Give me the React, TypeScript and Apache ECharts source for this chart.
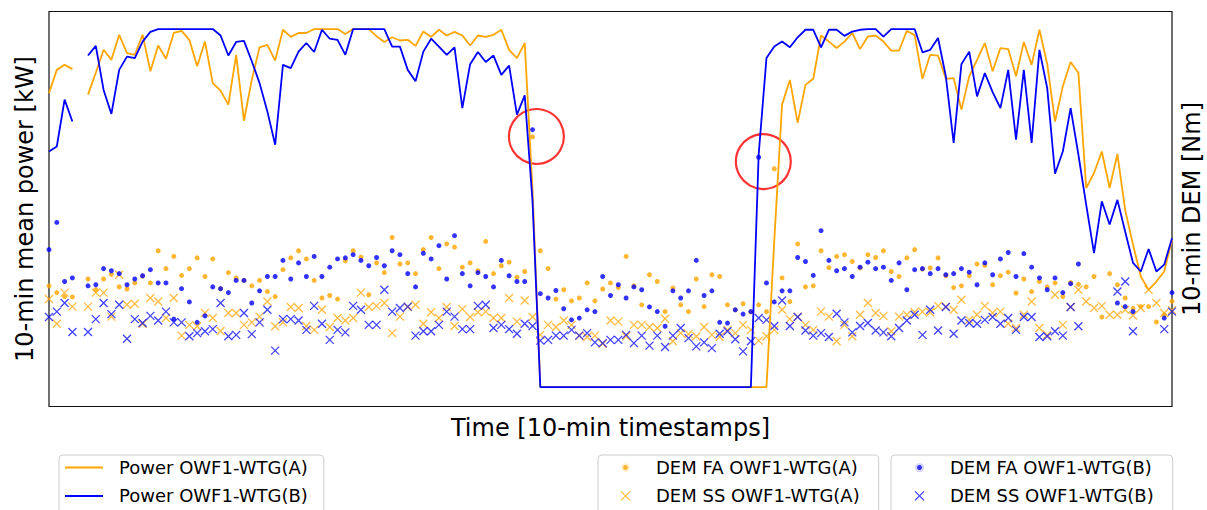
import React, { useEffect, useRef } from "react";
import * as echarts from "echarts";

// Power [% of rated], one value per 10-min timestamp (null = missing)
const powerA: (number | null)[] = [
  82.1, 88.6, 90.0, 88.8, null, 81.7, 87.8, 94.2, 91.4, 98.4,
  93.3, 92.8, 98.4, 88.2, 95.4, 91.7, 98.9, 99.5, 97.0, 89.6,
  96.5, 84.9, 82.8, 78.9, 92.8, 74.4, 85.8, 94.9, 95.6, 91.2,
  99.8, 97.8, 98.9, 98.9, 100, 100, 100, 100, 98.6, 100,
  100, 100, 98.0, 96.4, 97.7, 96.8, 97.0, 95.3, 99.3, 97.8,
  99.8, 98.2, 99.2, 98.2, 95.4, 98.2, 97.8, 98.4, 99.8, 94.2,
  91.9, 96.1, 55.0, 0, 0, 0, 0, 0, 0, 0,
  0, 0, 0, 0, 0, 0, 0, 0, 0, 0,
  0, 0, 0, 0, 0, 0, 0, 0, 0, 0,
  0, 0, 0, 41.0, 78.9, 85.8, 73.8, 84.4, 86.1, 98.2,
  96.5, 94.7, 96.5, 98.9, 94.4, 97.9, 98.2, 96.5, 94.0, 94.0,
  99.5, 98.3, 86.1, 92.8, 92.6, 86.1, 86.3, 77.5, 86.8, 91.4,
  96.1, 88.2, 94.7, 94.4, 86.8, 96.4, 90.0, 99.8, 90.2, 74.2,
  84.0, 90.8, 87.7, 55.6, 59.8, 65.8, 55.6, 65.1, 49.4, 39.8,
  30.9, 27.2, 29.5, 32.3, 41.2,
];

const powerB: (number | null)[] = [
  65.8, 67.2, 80.3, 74.2, null, 92.6, 95.3, 83.0, 76.3, 88.6,
  92.3, 91.9, 96.5, 99.2, 100, 100, 100, 100, 100, 100,
  100, 100, 98.2, 92.6, 96.4, 96.7, 91.0, 84.9, 77.0, 67.7,
  90.0, 89.1, 93.7, 96.1, 93.6, 99.8, 97.3, 97.0, 92.8, 100,
  100, 100, 100, 100, 95.1, 95.1, 88.6, 85.4, 93.7, 97.3,
  95.1, 92.8, 94.9, 77.9, 90.2, 93.6, 90.8, 92.6, 87.2, 89.8,
  76.1, 81.5, 52.0, 0, 0, 0, 0, 0, 0, 0,
  0, 0, 0, 0, 0, 0, 0, 0, 0, 0,
  0, 0, 0, 0, 0, 0, 0, 0, 0, 0,
  0, 65.0, 91.9, 95.1, 96.5, 94.9, 97.7, 99.8, 99.8, 94.9,
  99.8, 99.8, 98.1, 99.3, 99.8, 100, 100, 97.9, 100, 100,
  100, 100, 93.5, 94.2, 97.5, 86.8, 68.2, 90.2, 93.7, 81.2,
  87.7, 82.4, 77.9, 88.6, 69.1, 88.6, 68.2, 94.2, 83.5, 59.6,
  65.8, 77.9, 64.9, 50.9, 37.4, 51.9, 45.4, 52.3, 43.4, 34.7,
  32.3, 38.6, 32.3, 34.2, 41.6,
];

// DEM values (arbitrary units on the right axis)
const demFaA: (number | null)[] = [
  28.3, 26.4, 25.3, 25.2, null, 30.2, 27.2, 30.2, 31.5, 28.0,
  27.4, 29.1, 31.0, 29.1, 38.1, 33.1, 36.5, 31.2, 33.1, 36.1,
  30.9, 35.8, 27.5, 32.0, 30.5, 29.8, 28.3, 29.8, 26.7, 25.3,
  32.8, 36.1, 38.1, 35.8, 29.8, 24.9, 25.6, 24.6, 35.3, 38.1,
  36.3, 25.8, 34.7, 32.0, 41.8, 34.4, 34.7, 31.7, 38.4, 41.8,
  33.1, 40.0, 39.1, 33.5, 34.7, 32.5, 40.7, 31.7, 33.9, 34.9,
  30.7, 32.3, 69.9, 38.1, 33.1, 24.6, 27.2, 24.1, 24.9, 29.1,
  24.1, 27.4, 29.1, 27.8, 36.5, 28.3, 23.0, 31.4, 29.5, 21.1,
  27.7, 23.0, 21.1, 30.2, 22.5, 31.4, 30.9, 23.0, 21.6, 23.3,
  21.0, 23.0, 21.1, 61.0, 30.5, 23.9, 40.0, 28.0, 28.3, 38.1,
  33.4, 36.5, 37.0, 35.1, 33.3, 37.0, 36.2, 38.1, 32.3, 30.9,
  36.1, 38.4, 33.0, 33.3, 36.1, 31.1, 27.8, 28.3, 31.1, 34.4,
  34.0, 28.6, 31.1, 32.1, 26.3, 30.2, 26.7, 29.5, 28.0, 29.1,
  25.3, 29.2, 28.7, 28.0, 30.9, 19.6, 31.7, 28.6, 24.9, 22.0,
  22.5, 22.5, 18.2, 20.2, 24.0,
];

const demSsA: (number | null)[] = [
  24.6, 17.7, 26.4, 22.5, null, 22.5, 26.4, 26.4, 19.7, 31.4,
  23.0, 23.3, 17.7, 24.9, 23.9, 19.3, 24.9, 14.4, 17.4, 17.0,
  20.7, 19.3, 15.7, 20.7, 20.7, 17.4, 18.1, 19.7, 23.9, 17.0,
  18.1, 22.4, 22.1, 17.1, 16.0, 21.6, 16.8, 19.3, 18.6, 19.3,
  26.4, 22.4, 22.7, 23.5, 15.1, 19.7, 22.4, 23.0, 17.7, 20.9,
  19.3, 22.4, 17.1, 21.8, 19.6, 20.9, 21.1, 19.3, 19.3, 24.9,
  18.3, 24.2, 19.6, 14.6, 17.4, 16.8, 18.6, 17.4, 14.4, 14.0,
  14.4, 12.1, 18.6, 18.3, 14.2, 17.4, 17.4, 16.8, 16.5, 19.1,
  12.8, 15.1, 14.8, 14.2, 16.8, 14.6, 14.0, 16.0, 15.1, 17.4,
  16.0, 13.0, 14.2, 16.0, 21.6, 19.0, 19.7, 17.4, 16.0, 21.1,
  19.7, 12.8, 17.4, 14.2, 20.2, 23.5, 20.7, 19.9, 15.6, 19.7,
  20.2, 20.9, 21.1, 20.9, 22.7, 22.5, 21.6, 24.4, 18.8, 20.2,
  22.7, 20.7, 21.1, 17.7, 16.5, 20.2, 23.9, 16.5, 14.6, 25.8,
  17.4, 22.4, 27.2, 23.9, 22.1, 22.7, 20.2, 20.2, 21.6, 20.0,
  22.1, 27.2, 23.5, 20.7, 21.5,
];

const demFaB: (number | null)[] = [
  38.4, 46.0, 29.5, 30.5, null, 28.3, 28.6, 33.1, 32.5, 31.7,
  28.6, 30.2, 31.1, 32.8, 29.1, 29.1, 19.0, 27.5, 23.8, 18.1,
  19.9, 28.0, 27.5, 26.4, 29.8, 29.8, 23.5, 26.9, 30.9, 30.9,
  35.4, 30.2, 34.7, 30.9, 36.5, 30.9, 33.5, 35.8, 36.1, 37.0,
  35.4, 33.9, 36.2, 33.9, 38.1, 37.0, 31.7, 28.0, 37.4, 35.8,
  39.5, 30.2, 42.3, 31.7, 28.3, 32.0, 30.9, 28.0, 35.4, 31.1,
  29.5, 29.5, 71.9, 26.1, 24.9, 27.0, 21.9, 18.8, 19.3, 21.6,
  21.1, 30.9, 25.6, 28.6, 24.9, 28.0, 27.2, 22.4, 21.1, 17.0,
  26.9, 24.9, 26.9, 35.4, 25.6, 26.9, 18.1, 17.9, 21.6, 20.4,
  21.1, 64.2, 29.1, 23.8, 26.9, 26.9, 36.2, 35.1, 31.2, 43.7,
  35.4, 32.5, 33.1, 30.9, 33.5, 34.9, 33.1, 33.5, 29.8, 34.7,
  27.2, 32.8, 33.1, 31.7, 33.1, 31.4, 31.7, 33.1, 32.1, 28.6,
  34.7, 31.4, 35.8, 37.6, 30.9, 37.3, 33.5, 30.5, 27.2, 30.5,
  26.4, 28.9, 34.4, null, null, null, null, 23.5, 22.5, 21.1,
  null, null, null, 19.3, 26.4,
];

const demSsB: (number | null)[] = [
  19.6, 21.1, 23.5, 15.4, null, 15.4, 19.0, 23.5, 20.4, 23.0,
  13.5, 19.0, 17.9, 19.9, 18.6, 21.1, 18.1, 18.1, 14.2, 15.1,
  15.6, 16.2, 23.5, 14.2, 14.6, 20.7, 14.8, 18.1, 21.6, 10.2,
  19.0, 19.0, 18.6, 16.0, 22.7, 17.7, 13.2, 16.0, 15.3, 22.7,
  21.6, 17.4, 17.4, 27.2, 21.1, 22.1, 22.5, 14.4, 15.6, 15.6,
  17.4, 21.1, 19.7, 16.2, 16.2, 22.7, 23.0, 16.5, 17.4, 16.2,
  14.9, 17.7, 17.1, 13.0, 13.2, 14.4, 14.4, 16.0, 14.4, 15.1,
  12.5, 12.3, 13.2, 13.2, 14.6, 12.3, 14.4, 11.6, 14.4, 11.2,
  14.4, 16.5, 13.7, 11.4, 12.5, 10.9, 14.9, 15.6, 13.4, 10.0,
  12.8, 19.3, 18.8, 17.1, 24.2, 17.1, 19.6, 15.8, 14.4, 15.1,
  14.0, 20.5, 18.1, 15.3, 17.1, 17.9, 15.8, 15.3, 14.2, 16.5,
  18.6, 20.2, 14.6, 21.6, 15.8, 22.4, 14.9, 18.6, 17.9, 17.7,
  18.8, 19.6, 17.7, 19.3, 16.0, 19.6, 19.6, 14.0, 14.2, 15.6,
  14.4, 22.4, 17.0, null, null, null, null, 26.7, 29.5, 15.6,
  null, null, null, 16.2, 21.1,
];

// Highlighted transition points [timestamp index, power value]
const highlightCircles: [number, number][] = [
  [62.5, 70.0],
  [91.6, 63.0],
];

const seriesNames = [
  "Power OWF1-WTG(A)",
  "Power OWF1-WTG(B)",
  "DEM FA OWF1-WTG(A)",
  "DEM SS OWF1-WTG(A)",
  "DEM FA OWF1-WTG(B)",
  "DEM SS OWF1-WTG(B)",
];

const ORANGE = "#FFA500";
const BLUE = "#0000FF";
const X_PATH = "path://M0,0L10,10M10,0L0,10";
const FONT = "DejaVu Sans";

const toLine = (arr: (number | null)[]) =>
  arr.map((v, i) => [i, v === null ? "-" : v]);
const toScatter = (arr: (number | null)[]) =>
  arr
    .map((v, i) => (v === null ? null : [i, v]))
    .filter((d) => d !== null) as number[][];

const legendBase = {
  type: "plain" as const,
  orient: "vertical" as const,
  top: 455,
  height: 90,
  itemGap: 8.4,
  borderColor: "#cccccc",
  borderWidth: 1,
  borderRadius: 4,
  backgroundColor: "rgba(255,255,255,0.8)",
  selectedMode: false,
  textStyle: { fontSize: 18, color: "#000", fontFamily: FONT, lineHeight: 20 },
};

export default function App() {
  const ref = useRef<HTMLDivElement>(null);

  useEffect(() => {
    if (!ref.current) return;
    const chart = echarts.init(ref.current, undefined, { renderer: "svg" });
    const xMax = powerA.length - 1;

    const hiddenAxis = {
      axisLine: { show: false },
      axisTick: { show: false },
      axisLabel: { show: false },
      splitLine: { show: false },
    };

    chart.setOption({
      animation: false,
      textStyle: { fontFamily: FONT },
      grid: {
        left: 49,
        top: 11.5,
        width: 1123,
        height: 395,
        show: true,
        borderColor: "#111",
        borderWidth: 1.2,
        backgroundColor: "transparent",
        containLabel: false,
        outerBoundsMode: "none",
      },
      xAxis: {
        type: "value",
        min: 0,
        max: xMax,
        name: "Time [10-min timestamps]",
        nameLocation: "middle",
        nameGap: 9,
        nameTextStyle: { fontSize: 24, color: "#000", fontFamily: FONT, verticalAlign: "top" },
        ...hiddenAxis,
      },
      yAxis: [
        {
          type: "value",
          min: -5.4,
          max: 104.9,
          position: "left",
          name: "10-min mean power [kW]",
          nameLocation: "middle",
          nameGap: 12,
          nameTextStyle: { fontSize: 24, color: "#000", fontFamily: FONT },
          ...hiddenAxis,
        },
        {
          type: "value",
          min: -5.4,
          max: 104.9,
          position: "right",
          name: "10-min DEM [Nm]",
          nameLocation: "middle",
          nameGap: 8,
          nameRotate: 90,
          nameTextStyle: { fontSize: 24, color: "#000", fontFamily: FONT },
          ...hiddenAxis,
        },
      ],
      legend: [
        {
          ...legendBase,
          left: 59,
          data: [
            { name: seriesNames[0], icon: "rect" },
            { name: seriesNames[1], icon: "rect" },
          ],
          itemWidth: 38,
          itemHeight: 2,
          padding: [2.5, 16, 14, 6],
          textStyle: { ...legendBase.textStyle, padding: [0, 0, 0, 11] },
        },
        {
          ...legendBase,
          left: 598,
          data: [
            { name: seriesNames[2], icon: "circle", itemStyle: { color: ORANGE, borderColor: "#fff", borderWidth: 4 } },
            { name: seriesNames[3], icon: X_PATH, itemStyle: { color: "transparent", borderColor: ORANGE, borderWidth: 1.3, opacity: 0.75 } },
          ],
          itemWidth: 9,
          itemHeight: 9,
          padding: [2.5, 19, 14, 21],
          textStyle: { ...legendBase.textStyle, padding: [0, 0, 0, 21] },
        },
        {
          ...legendBase,
          left: 891,
          data: [
            { name: seriesNames[4], icon: "circle", itemStyle: { color: BLUE, borderColor: "#fff", borderWidth: 4 } },
            { name: seriesNames[5], icon: X_PATH, itemStyle: { color: "transparent", borderColor: BLUE, borderWidth: 1.3, opacity: 0.75 } },
          ],
          itemWidth: 9,
          itemHeight: 9,
          padding: [2.5, 19, 14, 22],
          textStyle: { ...legendBase.textStyle, padding: [0, 0, 0, 21] },
        },
      ],
      series: [
        {
          name: seriesNames[0],
          type: "line",
          yAxisIndex: 0,
          data: toLine(powerA),
          symbol: "none",
          lineStyle: { color: ORANGE, width: 1.8 },
          itemStyle: { color: ORANGE },
          connectNulls: false,
        },
        {
          name: seriesNames[1],
          type: "line",
          yAxisIndex: 0,
          data: toLine(powerB),
          symbol: "none",
          lineStyle: { color: BLUE, width: 1.8 },
          itemStyle: { color: BLUE },
          connectNulls: false,
        },
        {
          name: seriesNames[2],
          type: "scatter",
          yAxisIndex: 1,
          data: toScatter(demFaA),
          symbol: "circle",
          symbolSize: 5,
          itemStyle: { color: ORANGE },
        },
        {
          name: seriesNames[3],
          type: "scatter",
          yAxisIndex: 1,
          data: toScatter(demSsA),
          symbol: X_PATH,
          symbolSize: 8,
          itemStyle: { color: "transparent", borderColor: ORANGE, borderWidth: 1.3, opacity: 0.75 },
        },
        {
          name: seriesNames[4],
          type: "scatter",
          yAxisIndex: 1,
          data: toScatter(demFaB),
          symbol: "circle",
          symbolSize: 5,
          itemStyle: { color: BLUE },
        },
        {
          name: seriesNames[5],
          type: "scatter",
          yAxisIndex: 1,
          data: toScatter(demSsB),
          symbol: X_PATH,
          symbolSize: 8,
          itemStyle: { color: "transparent", borderColor: BLUE, borderWidth: 1.3, opacity: 0.75 },
        },
        {
          name: "highlight",
          type: "scatter",
          yAxisIndex: 0,
          data: highlightCircles,
          symbol: "circle",
          symbolSize: 55,
          silent: true,
          itemStyle: { color: "transparent", borderColor: "#FF0000", borderWidth: 2.2 },
        },
      ],
    });

    return () => chart.dispose();
  }, []);

  return (
    <div
      ref={ref}
      style={{ position: "fixed", left: 0, top: 0, width: 1207, height: 510, background: "#fff" }}
    />
  );
}
